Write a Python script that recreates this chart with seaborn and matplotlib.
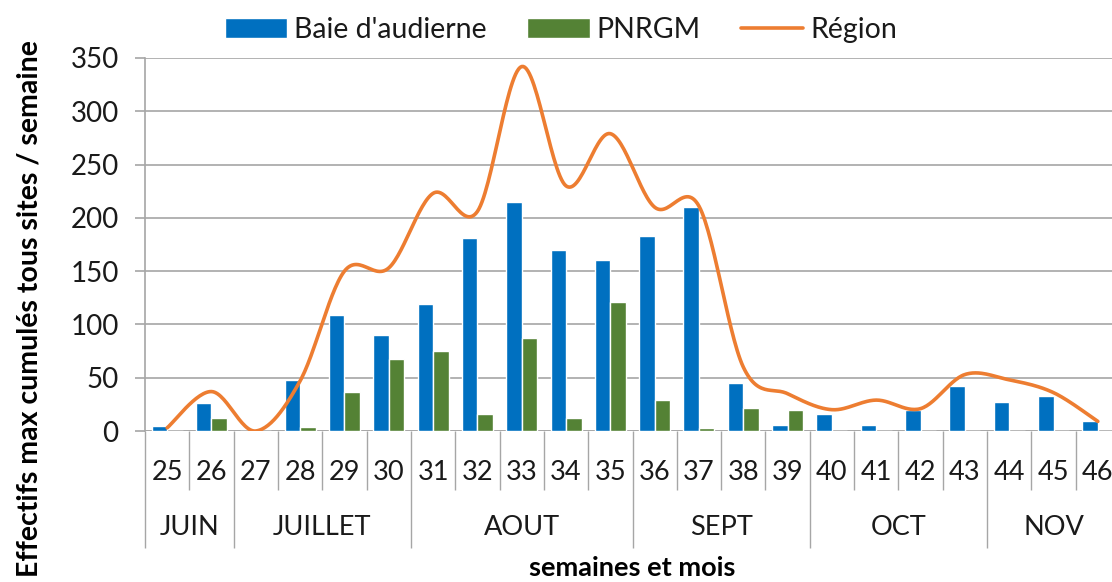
import numpy as np
import pandas as pd
import matplotlib
matplotlib.use('Agg')
import matplotlib.pyplot as plt
from matplotlib.transforms import blended_transform_factory
from matplotlib.patches import Patch
from matplotlib.lines import Line2D
import seaborn as sns

# data
semaines = [25, 26, 27, 28, 29, 30, 31, 32, 33, 34, 35, 36, 37, 38, 39, 40, 41, 42, 43, 44, 45, 46]
baie = [5, 26, 0, 48, 109, 90, 119, 181, 215, 170, 160, 183, 210, 45, 6, 16, 6, 20, 42, 27, 33, 9]
pnrgm = [0, 12, 0, 4, 37, 68, 75, 16, 87, 12, 121, 29, 3, 22, 20, 0, 0, 0, 0, 0, 0, 0]
region = [3, 37, 0, 47, 150, 153, 223, 206, 342, 230, 279, 210, 211, 60, 35, 20, 29, 21, 53, 48, 36, 9]
mois = ['JUIN', 'JUILLET', 'AOUT', 'SEPT', 'OCT', 'NOV']
mois_debut = [0, 2, 6, 11, 15, 19]
mois_fin = [1, 5, 10, 14, 18, 21]

BLUE = '#0070C0'
GREEN = '#548235'
ORANGE = '#ED7D31'
GRID = '#A6A6A6'
TXT = '#1a1a1a'
FONT = ['Lato', 'DejaVu Sans']

sns.set_theme(style='white')
plt.rcParams['font.family'] = FONT

df = pd.DataFrame({
    'semaine': [str(s) for s in semaines] * 2,
    'valeur': baie + pnrgm,
    'serie': ["Baie d'audierne"] * len(semaines) + ['PNRGM'] * len(semaines),
})

fig = plt.figure(figsize=(11.12, 5.82), dpi=100)
ax = fig.add_axes([145 / 1112, 151 / 582, 975 / 1112, 373 / 582])

sns.barplot(data=df, x='semaine', y='valeur', hue='serie',
            palette=[BLUE, GREEN], width=0.7, ax=ax, legend=False,
            saturation=1)


# smoothed line like excel (bezier with 1/6 control points)
def smooth(xv, yv, n=30):
    p = np.column_stack([xv, yv]).astype(float)
    pts = []
    for i in range(len(p) - 1):
        p0 = p[i - 1] if i > 0 else p[i]
        p1, p2 = p[i], p[i + 1]
        p3 = p[i + 2] if i + 2 < len(p) else p[i + 1]
        c1 = p1 + (p2 - p0) / 6
        c2 = p2 - (p3 - p1) / 6
        t = np.linspace(0, 1, n)[:, None]
        seg = (1 - t) ** 3 * p1 + 3 * (1 - t) ** 2 * t * c1 + 3 * (1 - t) * t ** 2 * c2 + t ** 3 * p2
        pts.append(seg if i == 0 else seg[1:])
    pts = np.vstack(pts)
    return pts[:, 0], pts[:, 1]


sx, sy = smooth(np.arange(len(region)), region)
sns.lineplot(x=sx, y=sy, sort=False, color=ORANGE, linewidth=2.6, ax=ax)

ax.set_xlim(-0.5, len(semaines) - 0.5)
ax.set_ylim(0, 350)
ax.set_yticks(range(0, 351, 50))
ax.yaxis.grid(True, color=GRID, linewidth=1.2)
ax.set_axisbelow(True)
for s in ['top', 'right', 'bottom']:
    ax.spines[s].set_visible(False)
ax.spines['left'].set_color(GRID)
ax.spines['left'].set_linewidth(1.2)
ax.axhline(0, color=GRID, linewidth=1.2, zorder=0.5)
ax.tick_params(axis='y', length=7, width=1.2, color=GRID, pad=12, labelsize=20,
               left=True, labelcolor=TXT)

# x axis: week separators (minor) and month separators (major)
bounds = np.arange(len(semaines) + 1) - 0.5
month_bounds = [b - 0.5 for b in mois_debut] + [len(semaines) - 0.5]
ax.set_xticks(month_bounds)
ax.set_xticklabels([])
ax.set_xticks([b for b in bounds if b not in month_bounds], minor=True)
ax.tick_params(axis='x', which='major', length=84, width=1, color=GRID, bottom=True)
ax.tick_params(axis='x', which='minor', length=42.5, width=1, color=GRID, bottom=True)
ax.set_xlabel('')
ax.set_ylabel('')

tr = blended_transform_factory(ax.transData, ax.transAxes)
for i, s in enumerate(semaines):
    ax.text(i, -0.11, str(s), transform=tr, ha='center', va='center',
            fontsize=19.5, color=TXT, clip_on=False)
for m, a, b in zip(mois, mois_debut, mois_fin):
    ax.text((a + b) / 2, -0.26, m, transform=tr, ha='center', va='center',
            fontsize=19.5, color=TXT, clip_on=False)

fig.text(632 / 1112, 1 - 568 / 582, 'semaines et mois', ha='center', va='center',
         fontsize=19.5, fontweight='bold', color='black')
fig.text(30 / 1112, 1 - 309 / 582, 'Effectifs max cumulés tous sites / semaine', ha='center',
         va='center', rotation=90, fontsize=20.5, fontweight='bold', color='black')

# legend
handles = [Patch(facecolor=BLUE), Patch(facecolor=GREEN),
           Line2D([0], [0], color=ORANGE, linewidth=2.6)]
labels = ["Baie d'audierne", 'PNRGM', 'Région']
fig.legend(handles, labels, loc='center', bbox_to_anchor=(561 / 1112, 1 - 30 / 582),
           ncol=3, frameon=False, fontsize=20.5, handlelength=2.2, handleheight=0.7,
           handletextpad=0.25, columnspacing=1.4, labelcolor=TXT)

fig.savefig('out.png', dpi=100)
